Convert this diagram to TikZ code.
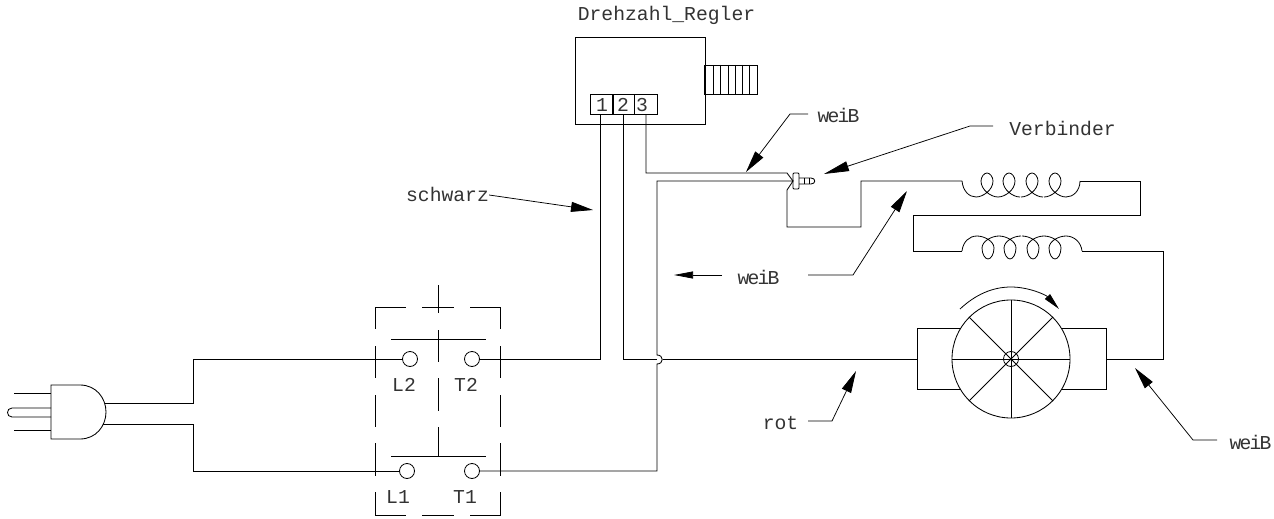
\documentclass[tikz,border=0pt]{standalone}
\usepackage{fontspec}
\setmainfont{Liberation Mono}
\newfontfamily\cadnarrow[LetterSpace=-9]{Liberation Mono}
\usetikzlibrary{arrows.meta}
\tikzset{
  wire/.style={line width=0.85pt,line join=miter},
  thin line/.style={line width=0.8pt},
  lab/.style={inner sep=0pt,text=black!80,font=\fontsize{19.7}{20}\selectfont},
  narrowlab/.style={inner sep=0pt,text=black!80,font=\fontsize{19.7}{20}\selectfont\cadnarrow},
  term/.style={circle,draw,line width=0.8pt,minimum size=15pt,inner sep=0pt},
  leader/.style={line width=0.75pt,-{Triangle[length=22pt,width=10pt]}},
  dashbox/.style={line width=0.85pt}
}
\begin{document}
\begin{tikzpicture}[x=1pt,y=-1pt]
\useasboundingbox (0,0) rectangle (1274,519);
% ---------- controller
\node[lab] (title) at (666.5,15) {Drehzahl\_Regler};
\node[draw,wire,minimum width=130pt,minimum height=87pt,inner sep=0pt] (ctrl) at (640,80.5) {};
\node[draw,wire,minimum width=53pt,minimum height=29pt,inner sep=0pt] (knob) at (730.5,79.5) {};
\foreach \x in {713,720,728,735,742,749} \draw[thin line] (\x,65) -- (\x,94);
\node[draw,wire,minimum width=22.5pt,minimum height=20pt,inner sep=0pt] (t1) at (601.5,104) {};
\node[draw,wire,minimum width=21pt,minimum height=20pt,inner sep=0pt] (t2) at (623.5,104) {};
\node[draw,wire,minimum width=23pt,minimum height=20pt,inner sep=0pt] (t3) at (645.5,104) {};
\node[lab] (n1) at (602,105) {1};
\node[lab] (n2) at (623,105) {2};
\node[lab] (n3) at (642,105) {3};
% ---------- switch
\node[term] (L2) at (410,359) {};
\node[term] (T2) at (472,359) {};
\node[term] (L1) at (407,471) {};
\node[term] (T1) at (472,471) {};
\node[lab] (lL2) at (404,385) {L2};
\node[lab] (lT2) at (466,385) {T2};
\node[lab] (lL1) at (398,497) {L1};
\node[lab] (lT1) at (465,497) {T1};
\foreach \a/\b in {375/405.5,422/454,470/500.5} {
  \draw[dashbox] (\a,307) -- (\b,307);
  \draw[dashbox] (\a,515) -- (\b,515);
}
\foreach \a/\b in {307/329,346/378,395/427,443/476,492/515} {
  \draw[dashbox] (375.5,\a) -- (375.5,\b);
  \draw[dashbox] (500,\a) -- (500,\b);
}
\foreach \a/\b in {285/313,330/362,378/411,427/456} \draw[thin line] (438,\a) -- (438,\b);
\draw[thin line] (391,339) -- (486,339);
\draw[thin line] (391,456) -- (486,456);
% ---------- plug
\coordinate (pU) at (105,403);
\coordinate (pD) at (103,424);
\draw[wire] (51,385) -- (80,385) .. controls (96,385) and (106,398) .. (106,412) .. controls (106,426) and (96,439) .. (80,439) -- (51,439) -- cycle;
\draw[wire] (14,393) -- (51,393);
\draw[wire] (14,430) -- (51,430);
\draw[wire] (51,408) -- (12,408) .. controls (6,408) and (6,417) .. (12,417) -- (51,417);
% ---------- wires left
\draw[wire] (pU) -- (193,403) -- (193,359) -- (L2.west);
\draw[wire] (pD) -- (193,424) -- (193,471) -- (L1.west);
% ---------- wires to controller
\coordinate (w1) at (600,114);
\coordinate (w2) at (623,114);
\coordinate (w3) at (646,114);
\draw[wire] (T2.east) -- (600,359) -- (w1);
\draw[wire] (w2) -- (623,359) -- (657,359);
\draw[wire] (663,359) -- (917,359);
\draw[wire] (w3) -- (646,173) -- (787,173) -- (793,181);
\draw[wire] (T1.east) -- (657,471) -- (657,364) .. controls (664,364) and (664,355) .. (657,355) -- (657,181) -- (793,181) -- (787,190) -- (787,227) -- (861,227) -- (861,181) -- (962,181);
% ---------- connector
\draw[wire,rounded corners=1pt] (793,173) rectangle (799,189);
\draw[wire] (799,178) -- (811,178) .. controls (816,178) and (816,184) .. (811,184) -- (799,184);
\draw[thin line] (804,178) -- (804,184);
\draw[thin line] (809,178) -- (809,184);
% ---------- upper coil
\draw[thin line] (962,181) .. controls (963,191) and (969,197) .. (976,197);
\foreach \c in {987,1009,1032,1055}
  \draw[thin line] ({\c-11},197) .. controls ({\c-4},197) and ({\c+6},190) .. ({\c+6},181) .. controls ({\c+6},177) and ({\c+3},173) .. (\c,173) .. controls ({\c-3},173) and ({\c-6},177) .. ({\c-6},181) .. controls ({\c-6},190) and ({\c+4},197) .. ({\c+11},197);
\draw[thin line] (1066,197) .. controls (1073,197) and (1080,191) .. (1080,181);
\draw[wire] (1080,181) -- (1140,181) -- (1140,215) -- (913,215) -- (913,251) -- (962,251);
% ---------- lower coil
\draw[thin line] (962,251) .. controls (963,242) and (969,236) .. (977,236);
\foreach \c in {988,1010,1033,1055}
  \draw[thin line] ({\c-11},236) .. controls ({\c-4},236) and ({\c+6},241) .. ({\c+6},248) .. controls ({\c+6},254) and ({\c+3},259) .. (\c,259) .. controls ({\c-3},259) and ({\c-6},254) .. ({\c-6},248) .. controls ({\c-6},241) and ({\c+4},236) .. ({\c+11},236);
\draw[thin line] (1066,236) .. controls (1074,236) and (1081,242) .. (1082,251);
\draw[wire] (1082,251) -- (1163,251) -- (1163,359) -- (1106,359);
% ---------- motor
\draw[wire] (961,328) -- (917,328) -- (917,389) -- (961,389);
\draw[wire] (1062,328) -- (1106,328) -- (1106,389) -- (1062,389);
\node[circle,draw,wire,minimum size=118pt,inner sep=0pt,fill=white] (rotor) at (1011,359) {};
\node[circle,draw,thin line,minimum size=15pt,inner sep=0pt] (hub) at (1011,359) {};
\draw[thin line] (rotor.west) -- (rotor.east);
\draw[thin line] (rotor.north) -- (rotor.south);
\draw[thin line] (rotor.north west) -- (rotor.south east);
\draw[thin line] (rotor.north east) -- (rotor.south west);
\coordinate (rotS) at (960,309);
\coordinate (rotT) at (1011,287);
\coordinate (rotE) at (1059,309);
\draw[thin line,-{Triangle[length=17pt,width=7pt]}] (rotS) .. controls (975,295) and (992,287) .. (rotT) .. controls (1029,287) and (1046,295) .. (rotE);
% ---------- labels and leaders
\node[narrowlab] (wTop) at (838.5,115) {weiB};
\coordinate (wTopA) at (808,114);
\coordinate (wTopB) at (790,114);
\coordinate (wTopT) at (746,172);
\draw[leader] (wTopA) -- (wTopB) -- (wTopT);
\node[lab] (verb) at (1062.5,128) {Verbinder};
\coordinate (vA) at (993,126);
\coordinate (vB) at (970,126);
\coordinate (vT) at (824,174);
\draw[leader,-{Triangle[length=25pt,width=10pt]}] (vA) -- (vB) -- (vT);
\node[lab] (schw) at (447.5,194) {schwarz};
\coordinate (sT) at (593,210);
\draw[leader] (schw.east) ++(0,1) -- (sT);
\node[narrowlab] (wMid) at (758.5,277) {weiB};
\coordinate (mA) at (722,275);
\coordinate (mT) at (674,275);
\draw[leader,-{Triangle[length=19pt,width=7pt]}] (mA) -- (mT);
\coordinate (nA) at (808,275);
\coordinate (nB) at (853,275);
\coordinate (nT) at (907,191);
\draw[leader] (nA) -- (nB) -- (nT);
\node[lab] (rot) at (780.5,423) {rot};
\coordinate (rA) at (808,421);
\coordinate (rB) at (832,421);
\coordinate (rT) at (856,371);
\draw[leader] (rA) -- (rB) -- (rT);
\node[narrowlab] (wR) at (1250.5,442) {weiB};
\coordinate (bA) at (1217,440);
\coordinate (bB) at (1193,440);
\coordinate (bT) at (1135,368);
\draw[leader] (bA) -- (bB) -- (bT);
\end{tikzpicture}
\end{document}
